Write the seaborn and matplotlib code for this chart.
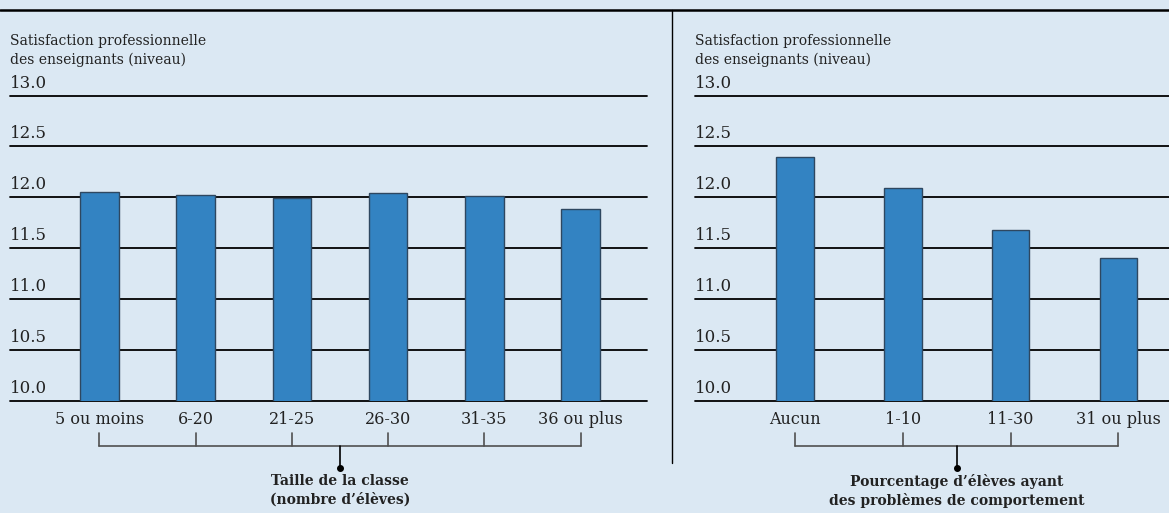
import matplotlib
matplotlib.use("Agg")
import matplotlib.pyplot as plt
import matplotlib.transforms as mtransforms
import seaborn as sns
import pandas as pd

# ---- data ----
class_sizes = ["5 ou moins", "6-20", "21-25", "26-30", "31-35", "36 ou plus"]
sat_by_class = [12.05, 12.02, 11.99, 12.04, 12.01, 11.89]

behaviour_pct = ["Aucun", "1-10", "11-30", "31 ou plus"]
sat_by_behaviour = [12.40, 12.09, 11.68, 11.41]

y_ticks = [10.0, 10.5, 11.0, 11.5, 12.0, 12.5, 13.0]
y_label = "Satisfaction professionnelle\ndes enseignants (niveau)"
x_title_left = "Taille de la classe\n(nombre d\u2019élèves)"
x_title_right = "Pourcentage d\u2019élèves ayant\ndes problèmes de comportement"

BG = "#DBE8F3"
BAR = "#3383C2"
EDGE = "#2E4760"
BRACKET = "#505050"

sns.set_theme(style="white")
plt.rcParams["font.family"] = ["DejaVu Serif"]

W, H = 1169, 513
fig = plt.figure(figsize=(W / 100, H / 100), dpi=100, facecolor=BG)

ax_bottom_px, ax_top_px = 401.3, 95.5
b = 1 - ax_bottom_px / H
h = (ax_bottom_px - ax_top_px) / H

axL = fig.add_axes([10 / W, b, (647 - 10) / W, h])
axR = fig.add_axes([695 / W, b, (W - 695) / W, h])


def draw(ax, cats, vals, width, xlim, title):
    df = pd.DataFrame({"cat": cats, "val": vals})
    sns.barplot(data=df, x="cat", y="val", ax=ax, color=BAR, saturation=1,
                width=width, edgecolor=EDGE, linewidth=1.0, zorder=3)
    ax.set_facecolor(BG)
    ax.set_ylim(10.0, 13.0)
    ax.set_xlim(*xlim)
    ax.set_yticks(y_ticks)
    ax.set_yticklabels([])
    ax.tick_params(axis="y", length=0)
    ax.grid(False)
    for t in y_ticks:
        ax.axhline(t, color="black", linewidth=1.3, zorder=1, clip_on=False)
    for s in ax.spines.values():
        s.set_visible(False)
    ax.set_xlabel("")
    ax.set_ylabel("")
    ax.tick_params(axis="x", length=0, pad=7, labelsize=11.5, colors="#222222")
    # y tick labels sitting above each grid line
    trans = mtransforms.blended_transform_factory(ax.transAxes, ax.transData)
    off = mtransforms.offset_copy(trans, fig=fig, x=0, y=4, units="dots")
    for t in y_ticks:
        ax.text(0.0, t, f"{t:.1f}", transform=off, ha="left", va="bottom",
                fontsize=12, color="#222222", clip_on=False)
    # y axis label above the axes
    ax.text(0.0, 1.0, y_label, transform=mtransforms.offset_copy(
        ax.transAxes, fig=fig, x=0, y=29, units="dots"),
        ha="left", va="bottom", fontsize=10, color="#222222",
        linespacing=1.35)
    # bracket below category labels
    bt = mtransforms.blended_transform_factory(ax.transData, ax.transAxes)
    axh = ax_bottom_px - ax_top_px
    y_tick_top = -(433 - ax_bottom_px) / axh
    y_bar = -(446 - ax_bottom_px) / axh
    y_dot = -(468 - ax_bottom_px) / axh
    y_text = -(474 - ax_bottom_px) / axh
    n = len(cats)
    ax.plot([0, n - 1], [y_bar, y_bar], transform=bt, color=BRACKET,
            lw=1.2, clip_on=False)
    for i in range(n):
        ax.plot([i, i], [y_bar, y_tick_top], transform=bt, color=BRACKET,
                lw=1.2, clip_on=False)
    mid = (n - 1) / 2
    ax.plot([mid, mid], [y_bar, y_dot], transform=bt, color="black",
            lw=1.2, clip_on=False)
    ax.plot([mid], [y_dot], transform=bt, marker="o", ms=4, color="black",
            clip_on=False)
    ax.text(mid, y_text, title, transform=bt, ha="center", va="top",
            fontsize=10, fontweight="bold", color="#222222",
            linespacing=1.35)


draw(axL, class_sizes, sat_by_class, 0.4, (-0.93, 5.69), x_title_left)
draw(axR, behaviour_pct, sat_by_behaviour, 0.35, (-0.93, 3.47), x_title_right)

# frame lines: top rule and vertical divider
fig.add_artist(plt.Line2D([0, 1], [1 - 10 / H, 1 - 10 / H], color="black",
                          lw=1.8, transform=fig.transFigure))
fig.add_artist(plt.Line2D([672 / W, 672 / W], [1 - 10 / H, 1 - 463 / H],
                          color="black", lw=1.0, transform=fig.transFigure))

fig.savefig("out.png", dpi=100, facecolor=BG)
